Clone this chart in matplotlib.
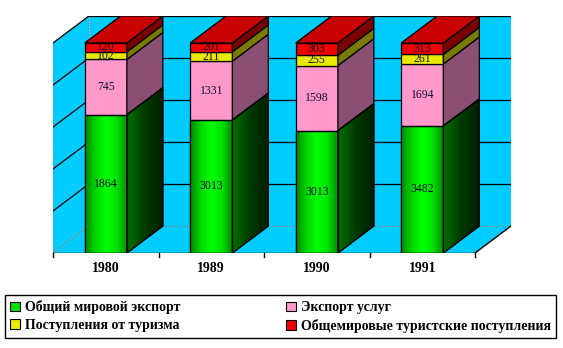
import numpy as np
import matplotlib
matplotlib.use('Agg')
import matplotlib.pyplot as plt
from matplotlib.patches import Polygon, Rectangle, Patch
from matplotlib.colors import LinearSegmentedColormap

# data
years = ['1980', '1989', '1990', '1991']
series_names = ['Общий мировой экспорт', 'Экспорт услуг',
                'Поступления от туризма', 'Общемировые туристские поступления']
world_export = [1864, 3013, 3013, 3482]
services_export = [745, 1331, 1598, 1694]
tourism_income = [102, 211, 255, 261]
world_tourism = [120, 201, 303, 313]

front_colors = ['#00e000', '#ff99cc', '#e8e800', '#ee0000']
side_colors = ['#005500', '#8a4f72', '#7a7a00', '#7a0000']

plt.rcParams['font.family'] = ['Liberation Serif', 'DejaVu Serif']

fig = plt.figure(figsize=(5.63, 3.48), dpi=100)
ax = fig.add_axes([53 / 563, 1 - 253 / 348, 458 / 563, 237 / 348])
ax.set_axis_off()

# depth of the fake 3d box, in data units
dx, dy = 0.341, 0.1286
x0, x1 = -0.5, len(years) - 0.5
wall = '#00ccff'

# walls and floor
back = Rectangle((x0 + dx, dy), x1 - x0, 1, fc=wall, ec='#808080', lw=0.8,
                 ls=':', zorder=0)
left = Polygon([(x0, 0), (x0 + dx, dy), (x0 + dx, 1 + dy), (x0, 1)],
               closed=True, fc=wall, ec='#808080', lw=0.8, ls=':', zorder=0)
floor = Polygon([(x0, 0), (x1, 0), (x1 + dx, dy), (x0 + dx, dy)],
                closed=True, fc=wall, ec='none', zorder=0)
for p in (back, left, floor):
    ax.add_patch(p)

# gridlines on back and left walls
for g in np.arange(0.2, 1.01, 0.2):
    ax.plot([x0 + dx, x1 + dx], [g + dy, g + dy], color='black', lw=0.9, zorder=1)
    ax.plot([x0, x0 + dx], [g, g + dy], color='black', lw=0.9, zorder=1)
ax.plot([x0 + dx, x1 + dx], [dy, dy], color='#b07050', lw=0.8, ls=':', zorder=1)
ax.plot([x0, x0 + dx], [0, dy], color='#b07050', lw=0.8, ls=':', zorder=1)

# x axis with ticks
ax.plot([x0, x1], [0, 0], color='black', lw=1, zorder=5)
ax.plot([x1, x1 + dx], [0, dy], color='black', lw=1, zorder=5)
for t in np.arange(x0, x1 + 0.01, 1):
    ax.plot([t, t], [0, -0.02], color='black', lw=1, zorder=5, clip_on=False)
for i, y in enumerate(years):
    ax.text(i, -0.075, y, ha='center', va='center', fontsize=10,
            fontweight='bold')

green_front = LinearSegmentedColormap.from_list(
    'gf', ['#008a00', '#00d800', '#00ff00', '#00e000', '#008800'])
green_side = LinearSegmentedColormap.from_list('gs', ['#007000', '#003a00', '#002000'])

values = np.array([world_export, services_export, tourism_income, world_tourism], float)
shares = values / values.sum(axis=0)
w = 0.4
grad = np.linspace(0, 1, 64)[None, :]
for i in range(len(years)):
    l, r = i - w / 2, i + w / 2
    bottom = 0.0
    for k in range(len(series_names)):
        top = bottom + shares[k, i]
        front_xy = [(l, bottom), (r, bottom), (r, top), (l, top)]
        side_xy = [(r, bottom), (r + dx, bottom + dy), (r + dx, top + dy), (r, top)]
        front = Polygon(front_xy, closed=True, fc=front_colors[k], ec='black', lw=0.9, zorder=3)
        side = Polygon(side_xy, closed=True, fc=side_colors[k], ec='black', lw=0.9, zorder=3)
        ax.add_patch(front)
        ax.add_patch(side)
        if k == 0:
            im = ax.imshow(grad, cmap=green_front, extent=(l, r, bottom, top),
                           aspect='auto', zorder=3)
            im.set_clip_path(front)
            im2 = ax.imshow(grad, cmap=green_side, extent=(r, r + dx, bottom, top + dy),
                            aspect='auto', zorder=3)
            im2.set_clip_path(side)
            for xy in (front_xy, side_xy):
                ax.add_patch(Polygon(xy, closed=True, fc='none', ec='black', lw=0.9, zorder=4))
        ax.text(i, (bottom + top) / 2, f'{int(values[k, i])}', ha='center', va='center',
                fontsize=8.5, color='#101030', zorder=6)
        bottom = top
    ax.add_patch(Polygon([(l, 1), (r, 1), (r + dx, 1 + dy), (l + dx, 1 + dy)],
                         closed=True, fc='#c80000', ec='black', lw=0.9, zorder=3))

ax.set_xlim(x0, x1 + dx)
ax.set_ylim(0, 1 + dy)

handles = [Patch(fc=c, ec='black', lw=0.8) for c in front_colors]
order = [0, 2, 1, 3]
leg = fig.legend([handles[j] for j in order], [series_names[j] for j in order],
                 ncol=2, loc='lower left', mode='expand',
                 bbox_to_anchor=(5 / 563, 10 / 348, 551 / 563, 46 / 348),
                 prop={'family': 'Liberation Serif', 'weight': 'bold', 'size': 10},
                 handlelength=0.7, handleheight=0.7, handletextpad=0.4,
                 borderpad=0.35, labelspacing=0.35, fancybox=False,
                 edgecolor='black', framealpha=1, borderaxespad=0)
leg.get_frame().set_linewidth(1)

fig.savefig('out.png', dpi=100)
